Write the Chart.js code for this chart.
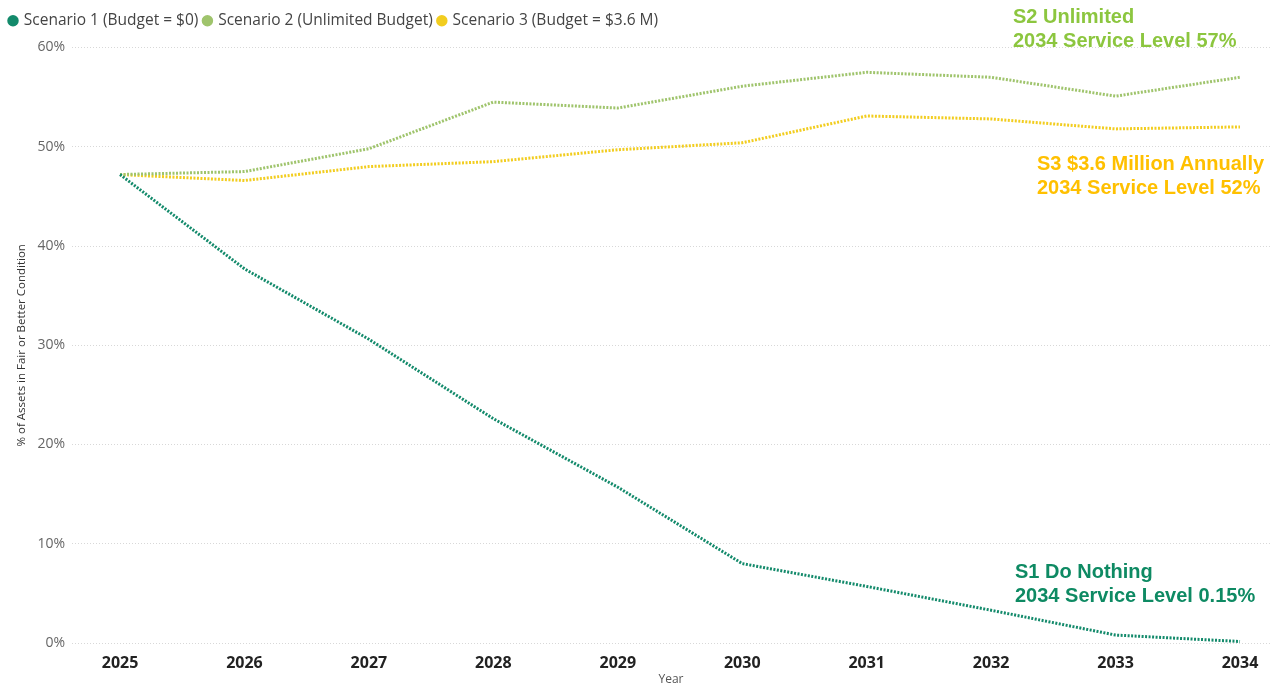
<!DOCTYPE html>
<html>
<head>
<meta charset="utf-8">
<title>Asset condition scenarios</title>
<script src="https://cdn.jsdelivr.net/npm/chart.js@4.4.1/dist/chart.umd.min.js"></script>
<style>
  html, body { margin: 0; padding: 0; background: #fff; }
  #wrap { position: relative; width: 1272px; height: 687px; }
  .note {
    position: absolute;
    font-family: "Liberation Sans Narrow", "Arial Narrow", sans-serif;
    font-weight: bold;
    font-size: 20px;
    line-height: 24px;
    white-space: nowrap;
  }
</style>
</head>
<body>
<div id="wrap">
  <canvas id="chart" width="1272" height="687"></canvas>
  <div class="note" style="left:1013px; top:4px; color:#8cc63f">S2 Unlimited<br>2034 Service Level 57%</div>
  <div class="note" style="left:1037px; top:151px; color:#ffc000">S3 $3.6 Million Annually<br>2034 Service Level 52%</div>
  <div class="note" style="left:1015px; top:559px; color:#0e8a63">S1 Do Nothing<br>2034 Service Level 0.15%</div>
</div>
<script>
const years = [2025, 2026, 2027, 2028, 2029, 2030, 2031, 2032, 2033, 2034];
const seriesNames = [
  "Scenario 1 (Budget = $0)",
  "Scenario 2 (Unlimited Budget)",
  "Scenario 3 (Budget = $3.6 M)",
];
const s1DoNothing = [47.2, 37.7, 30.6, 22.6, 15.7, 8.0, 5.7, 3.3, 0.8, 0.15];
const s2Unlimited = [47.2, 47.5, 49.8, 54.5, 53.9, 56.1, 57.5, 57.0, 55.1, 57.0];
const s3Budget36 = [47.2, 46.6, 48.0, 48.5, 49.7, 50.4, 53.1, 52.8, 51.8, 52.0];
const yTicks = [0, 10, 20, 30, 40, 50, 60];

const COLORS = ["#138a6b", "#9fc46c", "#f2cd1f"];
const FONT = "'Open Sans', sans-serif";

function toPoints(vals) {
  return vals.map((v, i) => ({ x: years[i], y: v }));
}

const datasets = [s1DoNothing, s2Unlimited, s3Budget36].map((vals, i) => ({
  label: seriesNames[i],
  data: toPoints(vals),
  borderColor: COLORS[i],
  backgroundColor: COLORS[i],
  borderWidth: 3,
  borderDash: [2, 1.5],
  pointRadius: 0,
  pointHoverRadius: 0,
  tension: 0,
}));

// extra room under the legend row
const legendGap = {
  id: "legendGap",
  beforeInit(chart) {
    const fit = chart.legend.fit;
    chart.legend.fit = function () {
      fit.call(this);
      this.height += 9;
    };
  },
};

new Chart(document.getElementById("chart"), {
  type: "line",
  data: { datasets },
  plugins: [legendGap],
  options: {
    responsive: false,
    animation: false,
    layout: { padding: { top: 7, right: 2, left: 4, bottom: 0 } },
    plugins: {
      tooltip: { enabled: false },
      legend: {
        position: "top",
        align: "start",
        labels: {
          usePointStyle: true,
          pointStyle: "circle",
          boxWidth: 6,
          boxHeight: 6,
          padding: 6,
          color: "#444",
          font: { family: FONT, size: 15.5 },
        },
      },
    },
    scales: {
      x: {
        type: "linear",
        min: 2024.614,
        max: 2034.241,
        afterBuildTicks: (scale) => {
          scale.ticks = years.map((v) => ({ value: v }));
        },
        afterFit: (scale) => {
          scale.height = 44;
        },
        grid: { display: false },
        border: { display: false },
        ticks: {
          padding: 3,
          color: "#222",
          font: { family: FONT, size: 16, weight: "bold" },
          callback: (v) => String(v),
        },
        title: {
          display: true,
          text: "Year",
          color: "#555",
          padding: 0,
          font: { family: FONT, size: 12 },
        },
      },
      y: {
        min: 0,
        max: 60,
        afterBuildTicks: (scale) => {
          scale.ticks = yTicks.map((v) => ({ value: v }));
        },
        afterFit: (scale) => {
          scale.width = 68;
        },
        grid: {
          color: "#d8d8d8",
          lineWidth: 1,
          drawTicks: false,
        },
        border: { display: false, dash: [1, 2] },
        ticks: {
          padding: 7,
          color: "#666",
          font: { family: FONT, size: 14 },
          callback: (v) => v + "%",
        },
        title: {
          display: true,
          text: "% of Assets in Fair or Better Condition",
          color: "#333",
          padding: { top: 11, bottom: 0 },
          font: { family: FONT, size: 11.5 },
        },
      },
    },
  },
});
</script>
</body>
</html>
